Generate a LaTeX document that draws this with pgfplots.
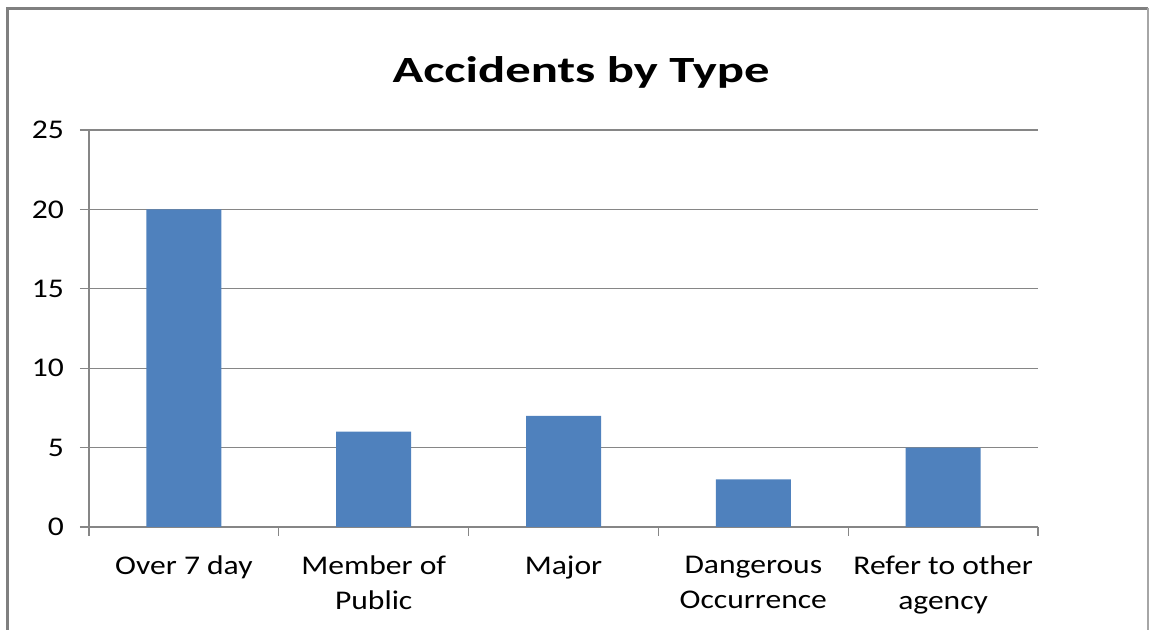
\documentclass[border=0pt]{standalone}
\usepackage{fontspec}
\setmainfont{Carlito}[FakeStretch=1.17]
\newfontfamily\titlefont{Carlito}[FakeStretch=1.37]
\usepackage{pgfplots}
\pgfplotsset{compat=1.18}
\definecolor{barblue}{RGB}{79,129,189}
\definecolor{gridgray}{RGB}{134,134,134}
\definecolor{framegray}{RGB}{128,128,128}
\begin{document}
\begin{tikzpicture}[x=1pt,y=1pt]
\path (0,0) rectangle (1151,630);
% chart frame
\draw[framegray, line width=2.5pt] (7.5,0) -- (7.5,621.5) -- (1148,621.5);
\draw[gray!70, line width=1.2pt] (1148,621.5) -- (1148,0);
\node[font=\titlefont\bfseries\fontsize{37}{44}\selectfont] at (581,558) {Accidents by Type};
\begin{axis}[
  at={(89pt,103pt)}, anchor=south west,
  scale only axis, width=949pt, height=397pt,
  xmin=-0.5, xmax=4.5, ymin=0, ymax=25,
  axis x line=bottom, axis y line=left,
  axis line style={-, draw=gridgray, line width=1.2pt},
  ytick={0,5,...,25}, ymajorgrids,
  grid style={gridgray, line width=1.2pt},
  xtick={0,...,4},
  xticklabels={Over 7 day, Member of\\Public, Major, Dangerous\\Occurrence, Refer to other\\agency},
  major x tick style={draw=none},
  minor xtick={-0.5,0.5,...,4.5},
  tick align=outside, major tick length=9pt, minor tick length=9pt,
  tick style={gridgray, line width=1.2pt},
  /pgf/number format/assume math mode=true,
  yticklabel style={anchor=east, inner sep=0pt, xshift=-16pt, font=\fontsize{27}{35}\selectfont},
  xticklabel style={anchor=north, inner sep=0pt, yshift=-20pt, align=center, font=\fontsize{27}{35}\selectfont},
  ybar, bar width=75pt,
]
\addplot[fill=barblue, draw=none] coordinates {(0,20) (1,6) (2,7) (3,3) (4,5)};
\end{axis}
\end{tikzpicture}
\end{document}
